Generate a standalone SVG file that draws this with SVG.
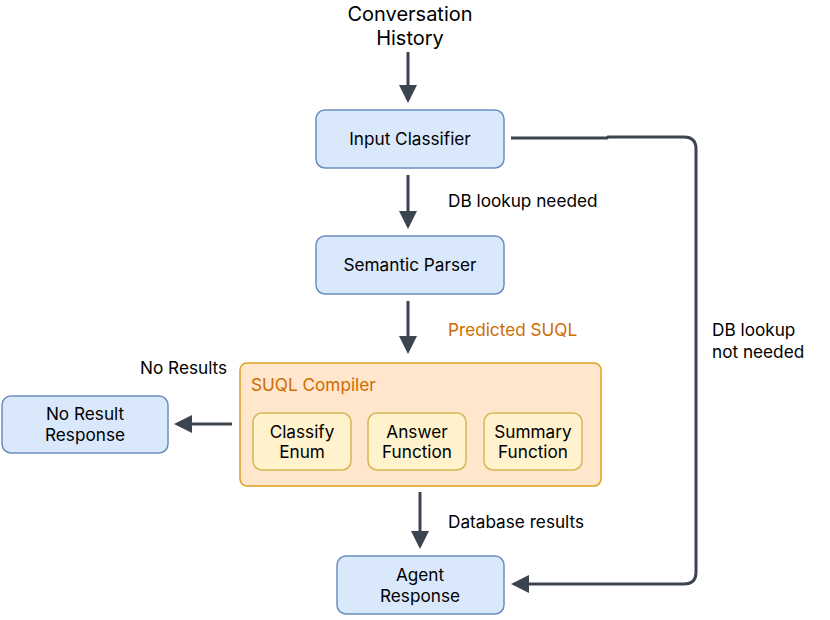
<svg xmlns="http://www.w3.org/2000/svg" width="830" height="620" viewBox="0 0 830 620">
<defs>
<marker id="ah" markerWidth="6" markerHeight="6" refX="5" refY="3" orient="auto" markerUnits="strokeWidth">
<path d="M0,0 L6,3 L0,6 Z" fill="#3c4450"/>
</marker>
<style>
text{font-family:Inter,"Noto Sans",sans-serif;font-size:17.2px;font-weight:400;fill:#000;}
.t{text-anchor:middle;}
.blue{fill:#dae8fc;stroke:#6c8ebf;stroke-width:1.5;}
.cont{fill:#ffe6cc;stroke:#e0a020;stroke-width:1.5;}
.inner{fill:#fff2cc;stroke:#d6b656;stroke-width:1.5;}
.or{fill:#d06b00;}
.c{fill:none;stroke:#3c4450;stroke-width:3;marker-end:url(#ah);}
</style>
</defs>
<rect width="830" height="620" fill="#fff"/>
<g id="history"><text class="t" x="410" y="21" style="font-size:20px">Conversation</text><text class="t" x="410" y="45" style="font-size:20px">History</text></g>
<g id="input-classifier"><rect class="blue" x="316" y="110" width="188" height="58" rx="9"/><text class="t" x="410" y="145">Input Classifier</text></g>
<g id="semantic-parser"><rect class="blue" x="316" y="236" width="188" height="58" rx="9"/><text class="t" x="410" y="271">Semantic Parser</text></g>
<g id="suql-compiler"><rect class="cont" x="240" y="363" width="361" height="123" rx="7"/><text class="or" x="251" y="391">SUQL Compiler</text>
<g id="classify-enum"><rect class="inner" x="253" y="413" width="98" height="57" rx="9"/><text class="t" x="302" y="438">Classify</text><text class="t" x="302" y="458">Enum</text></g>
<g id="answer-function"><rect class="inner" x="368" y="413" width="98" height="57" rx="9"/><text class="t" x="417" y="438">Answer</text><text class="t" x="417" y="458">Function</text></g>
<g id="summary-function"><rect class="inner" x="484" y="413" width="98" height="57" rx="9"/><text class="t" x="533" y="438">Summary</text><text class="t" x="533" y="458">Function</text></g>
</g>
<g id="no-result"><rect class="blue" x="2" y="396" width="166" height="57" rx="9"/><text class="t" x="85" y="420">No Result</text><text class="t" x="85" y="441">Response</text></g>
<g id="agent-response"><rect class="blue" x="337" y="556" width="167" height="58" rx="9"/><text class="t" x="420" y="581">Agent</text><text class="t" x="420" y="602">Response</text></g>
<g id="connectors">
<path class="c" d="M408 52 L408 100"/>
<path class="c" d="M408 175 L408 226"/>
<path class="c" d="M408 301 L408 351"/>
<path class="c" d="M232 424 L177 424"/>
<path class="c" d="M420 492 L420 546"/>
<path class="c" d="M511 138 L607 138 L608 137 L684 137 Q696 137 696 149 L696 572 Q696 584 684 584 L514 584"/>
<text x="448" y="207">DB lookup needed</text>
<text class="or" x="448" y="336">Predicted SUQL</text>
<text x="140" y="374">No Results</text>
<text x="448" y="528">Database results</text>
<text x="712" y="336">DB lookup</text>
<text x="712" y="358">not needed</text>
</g>
</svg>
